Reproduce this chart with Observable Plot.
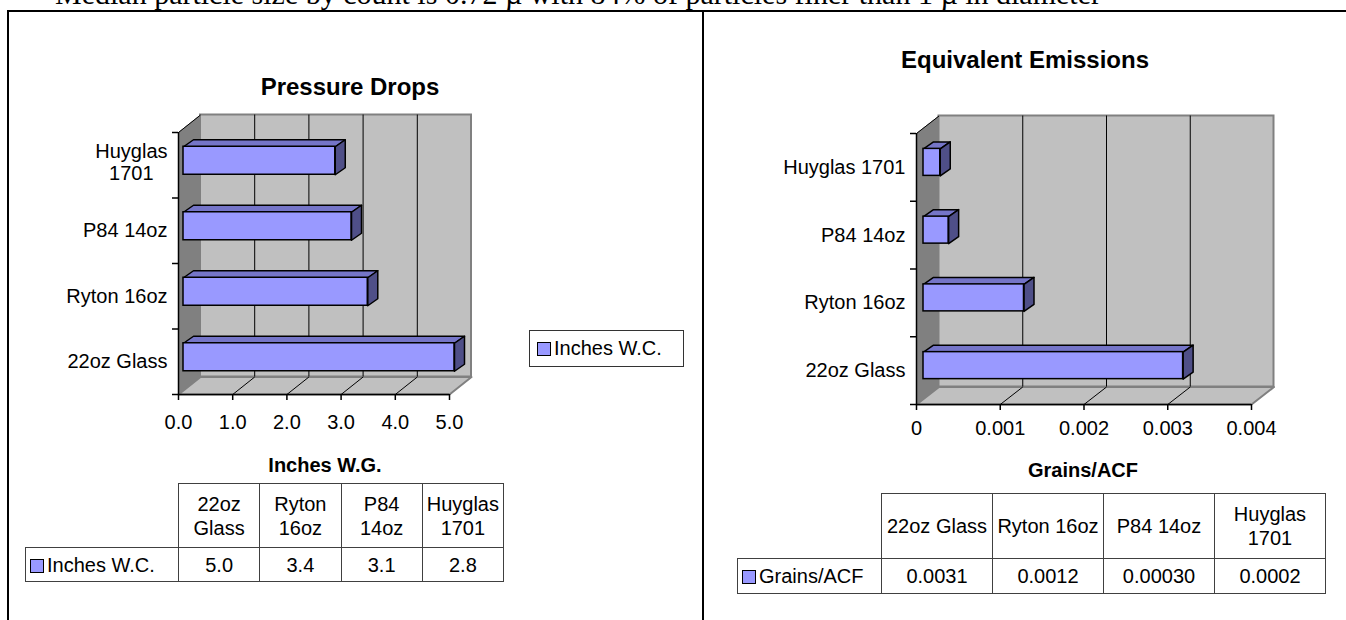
<!DOCTYPE html>
<html><head><meta charset="utf-8">
<script src="https://cdn.jsdelivr.net/npm/d3@7"></script>
<script src="https://cdn.jsdelivr.net/npm/@observablehq/plot@0.6"></script>
<style>
body{margin:0;background:#fff;}
#page{position:relative;width:1346px;height:620px;overflow:hidden;font-family:"Liberation Sans",Arial,sans-serif;color:#000;}
.hline{position:absolute;background:#000;}
.topText{position:absolute;left:0;top:-21px;font:30px "Liberation Serif","Times New Roman",serif;white-space:nowrap;line-height:30px;}
.ttl{position:absolute;font-weight:bold;font-size:24px;white-space:nowrap;transform:translate(-50%,-50%);}
.axt{position:absolute;font-weight:bold;font-size:20px;white-space:nowrap;transform:translate(-50%,-50%);}
.legend{position:absolute;border:1.5px solid #333;font-size:20px;display:flex;align-items:center;box-sizing:border-box;padding-left:7px;}
.sw{display:inline-block;width:12px;height:12px;background:#9999ff;border:1.5px solid #000;margin-right:3px;}
table.dt{position:absolute;border-collapse:collapse;table-layout:fixed;font-size:20px;}
table.dt td{border:1.5px solid #404040;padding:0;text-align:center;line-height:24px;overflow:hidden;}
table.dt td.blank{border:none;}
svg.plot{position:absolute;left:0;top:0;}
</style></head>
<body><div id="page"></div>
<script>
// ---- data ----
const categories = ["22oz Glass", "Ryton 16oz", "P84 14oz", "Huyglas 1701"];
const pressureLabels = ["22oz Glass", "Ryton 16oz", "P84 14oz", "Huyglas\n1701"];
const pressureDrops = [5.0, 3.4, 3.1, 2.8];
const pressureTicks = [0, 1, 2, 3, 4, 5];
const pressureTable = ["5.0", "3.4", "3.1", "2.8"];
const emissions = [0.0031, 0.0012, 0.0003, 0.0002];
const emissionTicks = [0, 0.001, 0.002, 0.003, 0.004];
const emissionTable = ["0.0031", "0.0012", "0.00030", "0.0002"];
const topNote = "Median particle size by count is 0.72 \u00b5 with 84% of particles finer than 1 \u00b5 in diameter";

const page = document.getElementById("page");
function el(tag, cls, style, html) {
  const e = document.createElement(tag);
  if (cls) e.className = cls;
  if (style) Object.assign(e.style, style);
  if (html != null) e.innerHTML = html;
  page.appendChild(e);
  return e;
}

// document text and frame
el("div", "topText", {}, '<span style="position:absolute;left:3px;font-size:22px;">\u2713</span><span style="position:absolute;left:55px;">' + topNote + "</span>");
el("div", "hline", {left: "7px", top: "10px", width: "1339px", height: "2px"});
el("div", "hline", {left: "7px", top: "10px", width: "2px", height: "610px"});
el("div", "hline", {left: "702px", top: "10px", width: "2px", height: "610px"});

const ctx = document.createElement("canvas").getContext("2d");
function textW(s, font) { ctx.font = font; return ctx.measureText(s).width; }

function chart3d(cfg) {
  const {values, ticks, xDomain, xRange, yRange, labels, depth, barOff, barDepth, barHalf, tickFmt, labelGap, tickLabelDy, multiLift} = cfg;
  const n = values.length;
  const kx = (xRange[1] - xRange[0]) / (xDomain[1] - xDomain[0]);
  const ky = (yRange[0] - yRange[1]) / n;
  const px = (d) => d / kx;
  const py = (d) => -d / ky;
  const Dx = px(depth[0]), Dy = py(depth[1]);
  const x0 = xDomain[0], x1 = xDomain[1];
  const poly = (id, pts) => pts.concat([pts[0]]).map(([x, y]) => ({id, x, y}));
  const leftWall = poly("lw", [[x0, 0], [x0, n], [x0 + Dx, n + Dy], [x0 + Dx, Dy]]);
  const floor = poly("fl", [[x0, 0], [x1, 0], [x1 + Dx, Dy], [x0 + Dx, Dy]]);
  const bars = values.map((v, i) => ({i, v}));
  const fX = px(barOff[0]), fY = py(barOff[1]);
  const bX = px(barDepth[0]), bY = py(barDepth[1]);
  const h = barHalf / ky;
  const tops = bars.flatMap((b) => {
    const yT = b.i + 0.5 + fY + h;
    return poly("t" + b.i, [[x0 + fX, yT], [x0 + fX + b.v, yT], [x0 + fX + b.v + bX, yT + bY], [x0 + fX + bX, yT + bY]]);
  });
  const sides = bars.flatMap((b) => {
    const yT = b.i + 0.5 + fY + h, yB = b.i + 0.5 + fY - h, xe = x0 + fX + b.v;
    return poly("s" + b.i, [[xe, yT], [xe + bX, yT + bY], [xe + bX, yB + bY], [xe, yB]]);
  });
  const inner = ticks.filter((t) => t > x0 && t < x1);
  const font = "20px 'Liberation Sans'";
  const lab = labels.map((s, i) => {
    const lines = s.split("\n");
    const w = Math.max(...lines.map((l) => textW(l, font)));
    return {i, s, multi: lines.length > 1, w};
  });
  const svg = Plot.plot({
    width: 1346, height: 620,
    style: {background: "transparent", overflow: "visible"},
    x: {domain: xDomain, range: xRange, axis: null},
    y: {domain: [0, n], range: yRange, axis: null},
    marks: [
      Plot.line(leftWall, {x: "x", y: "y", z: "id", fill: "#808080", stroke: "#808080", strokeWidth: 1}),
      Plot.rect([0], {x1: () => x0 + Dx, x2: () => x1 + Dx, y1: () => Dy, y2: () => n + Dy, fill: "#c0c0c0", stroke: "#808080", strokeWidth: 2}),
      Plot.line(floor, {x: "x", y: "y", z: "id", fill: "#c0c0c0", stroke: "#808080", strokeWidth: 2}),
      Plot.ruleX(inner, {x: (t) => t + Dx, y1: () => Dy, y2: () => n + Dy, stroke: "#000", strokeWidth: 1}),
      Plot.link(inner, {x1: (t) => t, y1: () => 0, x2: (t) => t + Dx, y2: () => Dy, stroke: "#000", strokeWidth: 1}),
      Plot.link([0], {x1: () => x0, y1: () => n, x2: () => x0 + Dx, y2: () => n + Dy, stroke: "#000", strokeWidth: 1}),
      Plot.ruleY([0], {x1: () => x0, x2: () => x1, stroke: "#000", strokeWidth: 1.5}),
      Plot.ruleX([x0], {y1: () => 0, y2: () => n, stroke: "#000", strokeWidth: 1.5}),
      Plot.ruleX(ticks, {x: (t) => t, y1: () => 0, y2: () => py(6), stroke: "#000", strokeWidth: 1.5}),
      Plot.ruleY(d3.range(n + 1), {y: (d) => d, x1: () => x0, x2: () => x0 - px(6), stroke: "#000", strokeWidth: 1.5}),
      Plot.text(ticks, {x: (t) => t, y: () => 0, dy: tickLabelDy, text: tickFmt, fontSize: 20, fill: "#000", fontFamily: "Liberation Sans"}),
      Plot.line(tops, {x: "x", y: "y", z: "id", fill: "#7575c8", stroke: "#000", strokeWidth: 1.5, strokeLinejoin: "round"}),
      Plot.line(sides, {x: "x", y: "y", z: "id", fill: "#4f4f88", stroke: "#000", strokeWidth: 1.5, strokeLinejoin: "round"}),
      Plot.rect(bars, {x1: () => x0 + fX, x2: (b) => x0 + fX + b.v, y1: (b) => b.i + 0.5 + fY - h, y2: (b) => b.i + 0.5 + fY + h, fill: "#9999ff", stroke: "#000", strokeWidth: 1.5}),
      Plot.text(lab.filter((d) => !d.multi), {x: () => x0 - px(labelGap), y: (d) => d.i + 0.5, text: "s", textAnchor: "end", fontSize: 20, fill: "#000", fontFamily: "Liberation Sans"}),
      Plot.text(lab.filter((d) => d.multi), {x: (d) => x0 - px(labelGap + d.w / 2), y: (d) => d.i + 0.5 + py(-multiLift), text: "s", textAnchor: "middle", lineHeight: 1.1, fontSize: 20, fill: "#000", fontFamily: "Liberation Sans"})
    ]
  });
  svg.style.position = "absolute";
  svg.style.left = "0px";
  svg.style.top = "0px";
  page.appendChild(svg);
}

// left chart
chart3d({
  values: pressureDrops, ticks: pressureTicks, xDomain: [0, 5], xRange: [178, 449], yRange: [394, 132],
  labels: pressureLabels, depth: [22, -17.5], barOff: [5, -4.5], barDepth: [10, -7], barHalf: 14,
  tickFmt: d3.format(".1f"), labelGap: 11, tickLabelDy: 28, multiLift: 3
});
// right chart
chart3d({
  values: emissions, ticks: emissionTicks, xDomain: [0, 0.004], xRange: [916, 1251], yRange: [404, 133],
  labels: categories, depth: [22.5, -17.5], barOff: [7, -5], barDepth: [10, -7], barHalf: 13.5,
  tickFmt: (d) => (d === 0 ? "0" : d3.format(".3f")(d)), labelGap: 11, tickLabelDy: 24, multiLift: 0
});

// titles
el("div", "ttl", {left: "350px", top: "87px"}, "Pressure Drops");
el("div", "ttl", {left: "1025px", top: "60px"}, "Equivalent Emissions");
el("div", "axt", {left: "325px", top: "465px"}, "Inches W.G.");
el("div", "axt", {left: "1083px", top: "470px"}, "Grains/ACF");

// legend
el("div", "legend", {left: "529px", top: "330px", width: "155px", height: "37px"}, '<span class="sw"></span>Inches W.C.');

// data tables
function dataTable(left, top, firstW, colW, headH, rowH, series, cells) {
  const t = el("table", "dt", {left: left + "px", top: top + "px", width: (firstW + colW * categories.length) + "px"});
  let html = "<colgroup><col style='width:" + firstW + "px'>" + categories.map(() => "<col style='width:" + colW + "px'>").join("") + "</colgroup>";
  html += "<tr style='height:" + headH + "px'><td class='blank'></td>" + categories.map((c) => "<td>" + c + "</td>").join("") + "</tr>";
  html += "<tr style='height:" + rowH + "px'><td style='text-align:left;padding-left:4px;white-space:nowrap'><span class='sw' style='vertical-align:-1px'></span>" + series + "</td>" + cells.map((v) => "<td>" + v + "</td>").join("") + "</tr>";
  t.innerHTML = html;
}
dataTable(25, 483, 153, 81.25, 64, 34, "Inches W.C.", pressureTable);
dataTable(737, 493, 144, 111, 65, 35, "Grains/ACF", emissionTable);
</script>
</body></html>
